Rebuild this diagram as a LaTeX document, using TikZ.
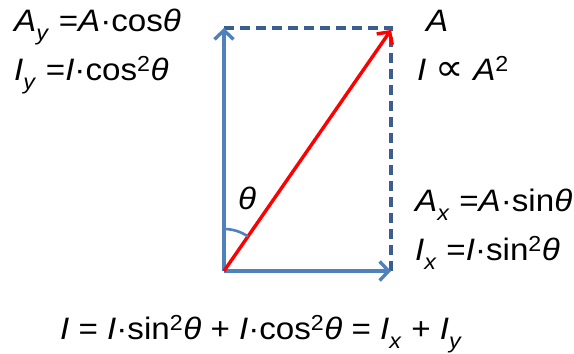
\documentclass[tikz,border=0pt]{standalone}
\usepackage{fontspec}
\usepackage{tikz}
\usetikzlibrary{arrows.meta,calc,positioning}
\setmainfont[FakeStretch=1.07]{Liberation Sans}
\newfontfamily\propfont[FakeStretch=1.07,Scale=1.2]{DejaVu Sans}
\definecolor{vecblue}{HTML}{4F81BD}
\definecolor{dashblue}{HTML}{3A5F8E}
\definecolor{vecred}{HTML}{FF0000}
\newcommand{\ital}[1]{\textit{#1}}
\newcommand{\subx}[1]{\raisebox{-0.3ex}{\textsubscript{\textit{#1}}}}
\tikzset{
  lbl/.style={anchor=base west,inner sep=0pt,font=\fontsize{31}{34}\selectfont},
  comp/.style={vecblue,line width=3.4pt,-{Straight Barb[length=9pt,width=19pt,line width=3.4pt]}},
  frame/.style={dashblue,line width=3.2pt,dash pattern=on 10pt off 6pt},
}
\begin{document}
\begin{tikzpicture}[x=1pt,y=1pt]
\useasboundingbox (0,0) rectangle (574,354);
\coordinate (o) at (224,83);
\coordinate (ytip) at (224,326);
\coordinate (xtip) at (391,83);
\coordinate (corner) at (391,326);
\coordinate (atip) at (391,324);
% rectangle, dashed sides
\draw[frame] (ytip) -- (corner) -- (xtip);
% components
\draw[comp] (o) -- (ytip);
\draw[comp] (o) -- (xtip);
% amplitude vector
\draw[vecred,line width=3.4pt,-{Straight Barb[length=9pt,width=19pt,line width=3.4pt]}] (o) -- (atip);
\draw[vecblue,line width=2.6pt] ($(o)+(90:42)$) arc[start angle=90,end angle=55.3,radius=42];
\node[font=\fontsize{31}{34}\selectfont,inner sep=0pt] (theta) at (247,156) {\ital{θ}};
% labels
\node[lbl] (ay) at (14,322) {\ital{A}\subx{y} =\ital{A}·cos\ital{θ}};
\node[lbl] (iy) at (14,273) {\ital{I}\subx{y} =\ital{I}·cos\textsuperscript{2}\ital{θ}};
\node[lbl] (aa) at (426,322) {\ital{A}};
\node[lbl] (ia) at (417,273) {\ital{I} {\propfont ∝} \ital{A}\textsuperscript{2}};
\node[lbl] (ax) at (415,142) {\ital{A}\subx{x} =\ital{A}·sin\ital{θ}};
\node[lbl] (ix) at (415,93) {\ital{I}\subx{x} =\ital{I}·sin\textsuperscript{2}\ital{θ}};
\node[lbl] (sum) at (60,14) {\ital{I} = \ital{I}·sin\textsuperscript{2}\ital{θ} + \ital{I}·cos\textsuperscript{2}\ital{θ} = \ital{I}\subx{x} + \ital{I}\subx{y}};
\end{tikzpicture}
\end{document}
